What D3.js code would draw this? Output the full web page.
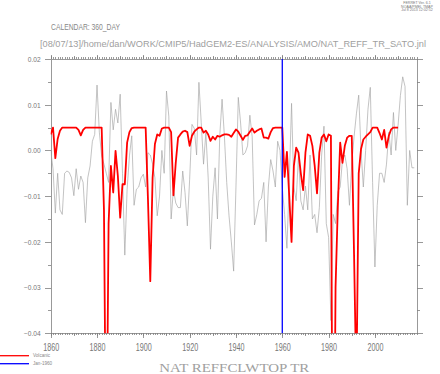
<!DOCTYPE html>
<html>
<head>
<meta charset="utf-8">
<script src="https://cdn.jsdelivr.net/npm/d3@7"></script>
<style>
  html, body { margin: 0; padding: 0; background: #fff; }
  svg { display: block; font-family: "Liberation Sans", Arial, sans-serif; }
  .axis path, .axis line { stroke: #808080; stroke-width: 0.8; shape-rendering: crispEdges; }
  .axis text { fill: #777; }
</style>
</head>
<body>
<svg id="chart" width="440" height="374"></svg>
<script>
// first year of both annual series
const START_YEAR = 1860;

// NAT REFFCLWTOP TR, annual (grey line)
const reffValues = [
  0.000, -0.004, -0.0137, -0.005, -0.013, -0.014, -0.005, -0.0045, -0.0048, -0.006,
  -0.0099, -0.004, -0.0085, -0.0056, -0.007, -0.0158, -0.006, -0.0034, 0.002, 0.0035,
  0.0143, 0.004, -0.0012, -0.003, -0.005, -0.007, 0.0105, 0.0045, 0.009, 0.006,
  0.0123, -0.005, -0.0229, -0.0085, -0.0012, 0.0032, -0.012, -0.0085, -0.008, -0.006,
  -0.0052, -0.008, -0.0005, -0.001, -0.003, -0.006, -0.0143, -0.010, 0.000, -0.005,
  0.013, 0.0075, -0.015, -0.0085, -0.0115, -0.0125, -0.0125, -0.0045, -0.0092, -0.0165,
  -0.0063, 0.0057, 0.0048, -0.001, 0.0149, 0.0061, -0.003, 0.0039, -0.006, -0.0216,
  -0.010, -0.0038, -0.015, 0.0032, 0.0112, 0.0032, -0.007, -0.0143, -0.020, -0.0264,
  -0.008, 0.0116, 0.006, -0.001, -0.0005, 0.001, 0.0077, 0.003, -0.0163, -0.014,
  -0.011, -0.0105, -0.007, -0.020, -0.008, -0.002, -0.0045, -0.008, 0.002, 0.000,
  -0.008, -0.014, -0.0214, -0.007, 0.0103, -0.008, -0.011, -0.001, -0.011, -0.013,
  -0.0078, -0.013, -0.001, -0.015, -0.014, -0.018, -0.0125, -0.001, 0.0053, -0.016,
  -0.019, -0.0372, -0.014, -0.016, -0.009, -0.008, -0.002, -0.001, -0.004, -0.012,
  -0.003, 0.003, 0.008, 0.0121, 0.000, -0.008, 0.000, 0.009, 0.0138, -0.007,
  -0.0255, -0.012, -0.005, -0.005, -0.007, -0.003, 0.004, -0.001, 0.0083, 0.000,
  0.0055, 0.012, 0.0161, 0.014, -0.012, 0.000, -0.0038, -0.0038
];

// Volcanic forcing, annual (red line)
const volcanicValues = [
  0.0035, 0.005, -0.0017, 0.0025, 0.0043, 0.005, 0.005, 0.005, 0.005, 0.005,
  0.005, 0.005, 0.0045, 0.0033, 0.0045, 0.005, 0.005, 0.005, 0.005, 0.005,
  0.005, 0.005, 0.005, -0.013, -0.075, -0.016, -0.0034, -0.0092, -0.0001, -0.0056,
  -0.0147, -0.0074, -0.0074, 0.0017, 0.004, 0.0049, 0.005, 0.005, 0.005, 0.005,
  0.005, 0.005, -0.0107, -0.0286, -0.006, 0.0014, 0.0035, 0.0032, 0.0048, 0.005,
  0.005, 0.005, 0.004, -0.0098, -0.0027, 0.0028, 0.0035, 0.0041, 0.0043, 0.004,
  0.001, 0.0032, 0.0041, 0.0046, 0.005, 0.005, 0.0039, 0.0043, 0.0035, 0.0021,
  0.003, 0.0024, 0.0032, 0.003, 0.0033, 0.0035, 0.0035, 0.0034, 0.003, 0.0038,
  0.0046, 0.0041, 0.0032, 0.0023, 0.0032, 0.0033, 0.0041, 0.0048, 0.0039, 0.0043,
  0.0046, 0.0048, 0.0028, 0.0028, 0.0026, 0.004, 0.0049, 0.005, 0.005, 0.005,
  0.005, -0.0058, -0.0003, -0.010, -0.020, -0.0034, 0.0006, -0.0005, -0.005, -0.0087,
  -0.0005, 0.0035, 0.0032, 0.001, -0.0034, -0.0094, -0.0005, 0.0028, 0.0035, 0.002,
  0.0035, 0.0032, -0.100, -0.030, -0.012, 0.0017, -0.0027, 0.001, 0.0028, 0.0032,
  0.0032, -0.023, -0.052, -0.005, 0.0003, 0.0024, 0.003, 0.0035, 0.004, 0.005,
  0.005, 0.005, 0.0038, 0.0024, 0.0045, 0.0006, 0.0032, 0.0046, 0.005, 0.005,
  0.005
];

const MARKER_YEAR = 1960;          // Jan-1960 vertical line
const X_LABEL_YEARS = [1860, 1880, 1900, 1920, 1940, 1960, 1980, 2000];
const Y_LABEL_VALUES = [-0.04, -0.03, -0.02, -0.01, 0.00, 0.01, 0.02];
const Y_MINOR_VALUES = [-0.035, -0.025, -0.015, -0.005, 0.005, 0.015];

const LEGEND_ITEMS = [
  { label: "Volcanic", color: "#ff0000" },
  { label: "Jan-1960", color: "#0000ff" }
];

const HEADER_LINES = ["FERRET Ver. 6.1", "NOAA/PMEL TMAP", "Jul  8 2013 12:02:52"];
const CALENDAR_TEXT = "CALENDAR: 360_DAY";
const PATH_TEXT = "[08/07/13]/home/dan/WORK/CMIP5/HadGEM2-ES/ANALYSIS/AMO/NAT_REFF_TR_SATO.jnl";
const TITLE_TEXT = "NAT REFFCLWTOP TR";

const svg = d3.select("#chart");
const box = { left: 50.7, right: 417.3, top: 59, bottom: 333.3 };

const x = d3.scaleLinear().domain([1860, 2018.3]).range([box.left, box.right]);
const y = d3.scaleLinear().domain([-0.04, 0.02]).range([box.bottom, box.top]);

const toPoints = (vals) => vals.map((v, i) => ({ year: START_YEAR + i, value: v }));
const line = d3.line().x((d) => x(d.year)).y((d) => y(d.value));

svg.append("defs").append("clipPath").attr("id", "plot-clip")
  .append("rect")
  .attr("x", box.left).attr("y", box.top)
  .attr("width", box.right - box.left).attr("height", box.bottom - box.top);

// header text
svg.append("g").selectAll("text")
  .data(HEADER_LINES)
  .join("text")
  .attr("x", 417).attr("y", (d, i) => 4 + i * 3.6)
  .attr("text-anchor", "middle")
  .attr("font-size", 3.6)
  .attr("fill", "#777")
  .text((d) => d);

svg.append("text")
  .attr("x", 51).attr("y", 30)
  .attr("font-size", 8.5)
  .attr("fill", "#888")
  .attr("textLength", 69).attr("lengthAdjust", "spacingAndGlyphs")
  .text(CALENDAR_TEXT);

svg.append("text")
  .attr("x", 40).attr("y", 46.5)
  .attr("font-size", 9.5)
  .attr("fill", "#a0a0a0")
  .attr("textLength", 386).attr("lengthAdjust", "spacingAndGlyphs")
  .text(PATH_TEXT);

// axes
const yearTicks = d3.range(1860, 2019);
const decadeTicks = yearTicks.filter((yr) => yr % 10 === 0);

function xAxes(gen, yPos, labels) {
  const g = svg.append("g").attr("class", "axis").attr("transform", `translate(0,${yPos})`);
  g.call(gen(x).tickValues(yearTicks).tickSize(2).tickSizeOuter(0).tickFormat(""));
  g.call((s) => s.append("g").call(gen(x).tickValues(decadeTicks).tickSize(3).tickSizeOuter(0).tickFormat("")));
  const major = g.append("g").call(gen(x).tickValues(X_LABEL_YEARS).tickSize(4.5).tickSizeOuter(0)
    .tickFormat(labels ? d3.format("d") : ""));
  major.select(".domain").remove();
  g.selectAll("g > g .domain").remove();
  if (labels) {
    major.selectAll("text")
      .attr("y", 17.4).attr("dy", 0)
      .attr("font-size", 11)
      .attr("fill", "#888")
      .attr("textLength", 16).attr("lengthAdjust", "spacingAndGlyphs")
      .attr("font-family", "Liberation Sans, Arial, sans-serif");
  }
}
xAxes(d3.axisBottom, box.bottom, true);
xAxes(d3.axisTop, box.top, false);

function yAxes(gen, xPos, labels) {
  const g = svg.append("g").attr("class", "axis").attr("transform", `translate(${xPos},0)`);
  g.call(gen(y).tickValues(Y_MINOR_VALUES).tickSize(3).tickSizeOuter(0).tickFormat(""));
  const major = g.append("g").call(gen(y).tickValues(Y_LABEL_VALUES).tickSize(6).tickSizeOuter(0)
    .tickFormat(labels ? (d) => d3.format(".2f")(d).replace("-", "\u2212") : ""));
  major.select(".domain").remove();
  if (labels) {
    major.selectAll("text")
      .attr("x", -10).attr("dy", "0.35em")
      .attr("font-size", 6.6)
      .attr("fill", "#777")
      .attr("font-family", "Liberation Sans, Arial, sans-serif");
  }
}
yAxes(d3.axisLeft, box.left, true);
yAxes(d3.axisRight, box.right, false);

// data lines
const plot = svg.append("g").attr("clip-path", "url(#plot-clip)");

plot.append("path")
  .datum(toPoints(reffValues))
  .attr("fill", "none")
  .attr("stroke", "#a3a3a3")
  .attr("stroke-width", 0.65)
  .attr("d", line);

plot.append("path")
  .datum(toPoints(volcanicValues))
  .attr("fill", "none")
  .attr("stroke", "#ff0000")
  .attr("stroke-width", 1.8)
  .attr("stroke-linejoin", "round")
  .attr("d", line);

plot.append("line")
  .attr("x1", x(MARKER_YEAR)).attr("x2", x(MARKER_YEAR))
  .attr("y1", y(0.02)).attr("y2", y(-0.04))
  .attr("stroke", "#0000ff")
  .attr("stroke-width", 1.3);

// legend
const legend = svg.append("g").selectAll("g")
  .data(LEGEND_ITEMS)
  .join("g")
  .attr("transform", (d, i) => `translate(0,${355.7 + i * 8})`);
legend.append("line")
  .attr("x1", 0).attr("x2", 29)
  .attr("stroke", (d) => d.color)
  .attr("stroke-width", 1.3);
legend.append("text")
  .attr("x", 33).attr("y", 1.6)
  .attr("font-size", 4.6)
  .attr("fill", "#888")
  .text((d) => d.label);

svg.append("text")
  .attr("x", 234.3).attr("y", 372.2)
  .attr("text-anchor", "middle")
  .attr("font-family", "Liberation Serif, Times New Roman, serif")
  .attr("font-size", 13.5)
  .attr("fill", "#a0a0a0")
  .attr("textLength", 150).attr("lengthAdjust", "spacingAndGlyphs")
  .text(TITLE_TEXT);
</script>
</body>
</html>
